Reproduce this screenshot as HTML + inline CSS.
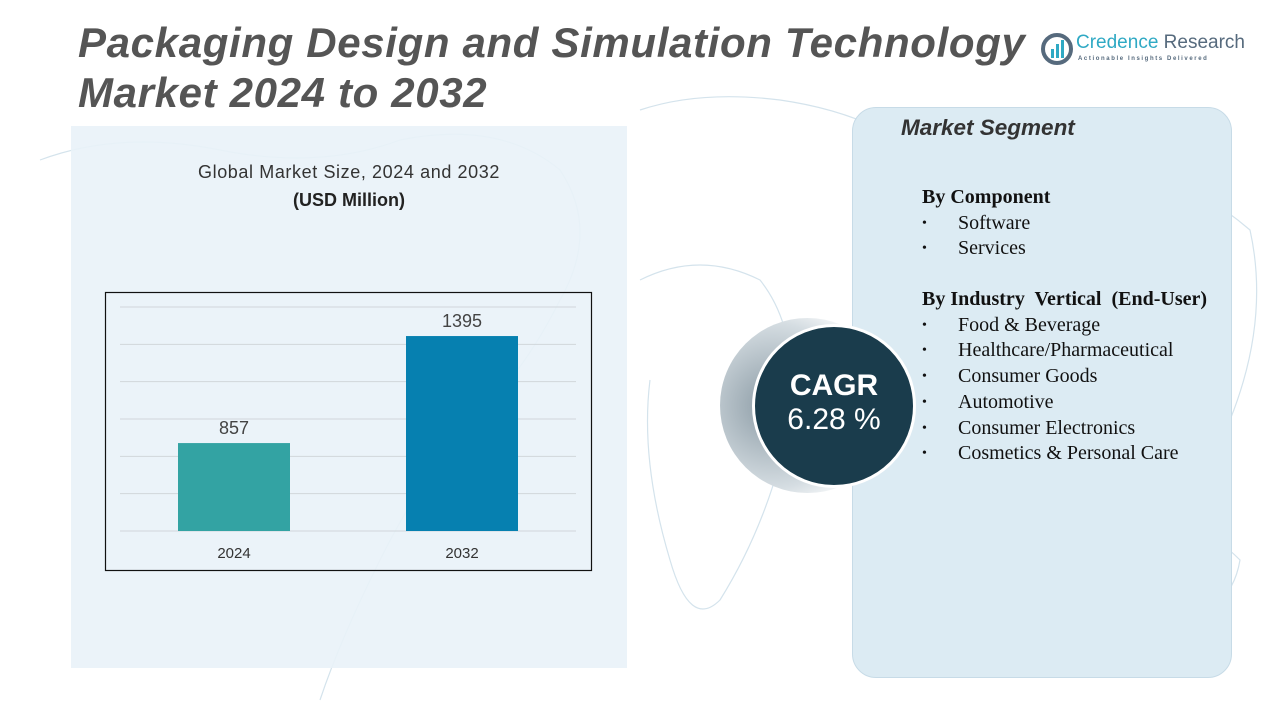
<!DOCTYPE html>
<html><head><meta charset="utf-8"><style>
body{margin:0;width:1280px;height:720px;background:#fff;position:relative;overflow:hidden;font-family:"Liberation Sans",sans-serif}
.abs{position:absolute}
.seg div{height:25.7px;line-height:25.7px}
.seg span{display:inline-block;width:36px;font-size:14px;vertical-align:top}
</style></head><body>
<svg class="abs" style="left:0;top:0" width="1280" height="720">
<g fill="none" stroke="#d4e3ec" stroke-width="1.2">
<path d="M40 160 Q120 130 220 150 T400 140 Q500 120 560 170 Q600 230 560 300 Q520 380 470 420 Q420 480 380 560 Q340 640 320 700"/>
<path d="M640 110 Q700 90 780 100 Q850 110 900 140 Q980 120 1080 150 Q1180 170 1250 230 Q1270 320 1230 420 Q1200 520 1150 600"/>
<path d="M640 280 Q700 250 760 280 Q800 330 790 420 Q770 520 720 600 Q690 630 670 560 Q640 460 650 380"/>
<path d="M1100 520 Q1180 500 1240 560 Q1230 620 1160 620 Q1110 600 1100 520"/>
</g></svg>
<div class="abs" style="left:71px;top:126px;width:556px;height:542px;background:#e9f2f8;opacity:.9"></div>
<div class="abs" style="left:78px;top:18px;font-size:42px;letter-spacing:0.65px;font-weight:bold;font-style:italic;color:#555;line-height:50px;white-space:nowrap">Packaging Design and Simulation Technology<br>Market 2024 to 2032</div>
<div class="abs" style="left:1040px;top:32px;width:210px;height:34px">
<svg width="34" height="34" class="abs" style="left:0;top:0"><circle cx="17" cy="17" r="14" fill="none" stroke="#566a7d" stroke-width="4"/><rect x="11" y="17" width="3" height="9" fill="#2fa9c4"/><rect x="16" y="12" width="3" height="14" fill="#2fa9c4"/><rect x="21" y="8" width="3" height="18" fill="#2fa9c4"/></svg>
<div class="abs" style="left:36px;top:0;font-size:19px;color:#2fa9c4;white-space:nowrap">Credence <span style="color:#566a7d">Research</span></div>
<div class="abs" style="left:38px;top:24px;font-size:6px;letter-spacing:1.6px;color:#566a7d;white-space:nowrap;font-weight:bold">Actionable Insights Delivered</div>
</div>
<div class="abs" style="left:71px;top:162px;width:556px;text-align:center;font-size:18px;letter-spacing:0.6px;color:#333">Global Market Size, 2024 and 2032</div>
<div class="abs" style="left:71px;top:190px;width:556px;text-align:center;font-size:18px;font-weight:bold;color:#222">(USD Million)</div>
<svg class="abs" style="left:0;top:0" width="1280" height="720" id="chart">
<rect x="105.5" y="292.5" width="486" height="278" fill="none" stroke="#111" stroke-width="1.2"/>
</svg>
<script>
const categories=["2024","2032"];
const values=[857,1395];
const labels=["857","1395"];
const colors=["#33a3a3","#0680b0"];
const svg=document.getElementById('chart');const NS='http://www.w3.org/2000/svg';
const yMin=415,yMax=1541,base=531,top0=307;
const y=v=>base-(v-yMin)/(yMax-yMin)*(base-top0);
const xs=[234,462];const bw=112;
for(let i=0;i<=6;i++){const gy=top0+i*(base-top0)/6;const l=document.createElementNS(NS,'line');


l.setAttribute('x1',120);l.setAttribute('x2',576);l.setAttribute('y1',gy);l.setAttribute('y2',gy);l.setAttribute('stroke','#d0d6da');svg.appendChild(l);}
categories.forEach((c,i)=>{const r=document.createElementNS(NS,'rect');


r.setAttribute('x',xs[i]-bw/2);r.setAttribute('y',y(values[i]));r.setAttribute('width',bw);r.setAttribute('height',base-y(values[i]));r.setAttribute('fill',colors[i]);svg.appendChild(r);
const t=document.createElementNS(NS,'text');


t.setAttribute('x',xs[i]);t.setAttribute('y',y(values[i])-9);t.setAttribute('text-anchor','middle');t.setAttribute('font-size','18');t.setAttribute('fill','#444');t.setAttribute('font-family','Liberation Sans, sans-serif');t.textContent=labels[i];svg.appendChild(t);
const a=document.createElementNS(NS,'text');


a.setAttribute('x',xs[i]);a.setAttribute('y',558);a.setAttribute('text-anchor','middle');a.setAttribute('font-size','15');a.setAttribute('fill','#333');a.setAttribute('font-family','Liberation Sans, sans-serif');a.textContent=c;svg.appendChild(a);});
</script>
<div class="abs" style="left:720px;top:318px;width:175px;height:175px;border-radius:50%;background:radial-gradient(circle at 30% 50%,#8a9aa4,#d5dde2 55%,#fff 75%)"></div>
<div class="abs" style="left:852px;top:107px;width:378px;height:569px;border-radius:24px;background:#dcebf3;border:1px solid #c7dbe7"></div>
<div class="abs" style="left:752px;top:324px;width:164px;height:164px;border-radius:50%;background:#1a3c4c;border:3px solid #fff;box-sizing:border-box;color:#fff;text-align:center">
<div style="margin-top:42px;font-size:30px;font-weight:bold">CAGR</div><div style="font-size:30px">6.28 %</div></div>
<div class="abs" style="left:901px;top:115px;font-size:22.5px;font-weight:bold;font-style:italic;color:#333">Market Segment</div>
<div class="abs seg" style="left:922px;top:185px;font-family:'Liberation Serif',serif;font-size:20px;color:#111;white-space:nowrap">
<div style="font-weight:bold">By Component</div>
<div><span>•</span>Software</div>
<div><span>•</span>Services</div>
<div style="font-weight:bold;margin-top:25px">By Industry&nbsp; Vertical&nbsp; (End-User)</div>
<div><span>•</span>Food &amp; Beverage</div>
<div><span>•</span>Healthcare/Pharmaceutical</div>
<div><span>•</span>Consumer Goods</div>
<div><span>•</span>Automotive</div>
<div><span>•</span>Consumer Electronics</div>
<div><span>•</span>Cosmetics &amp; Personal Care</div>
</div>
</body></html>
